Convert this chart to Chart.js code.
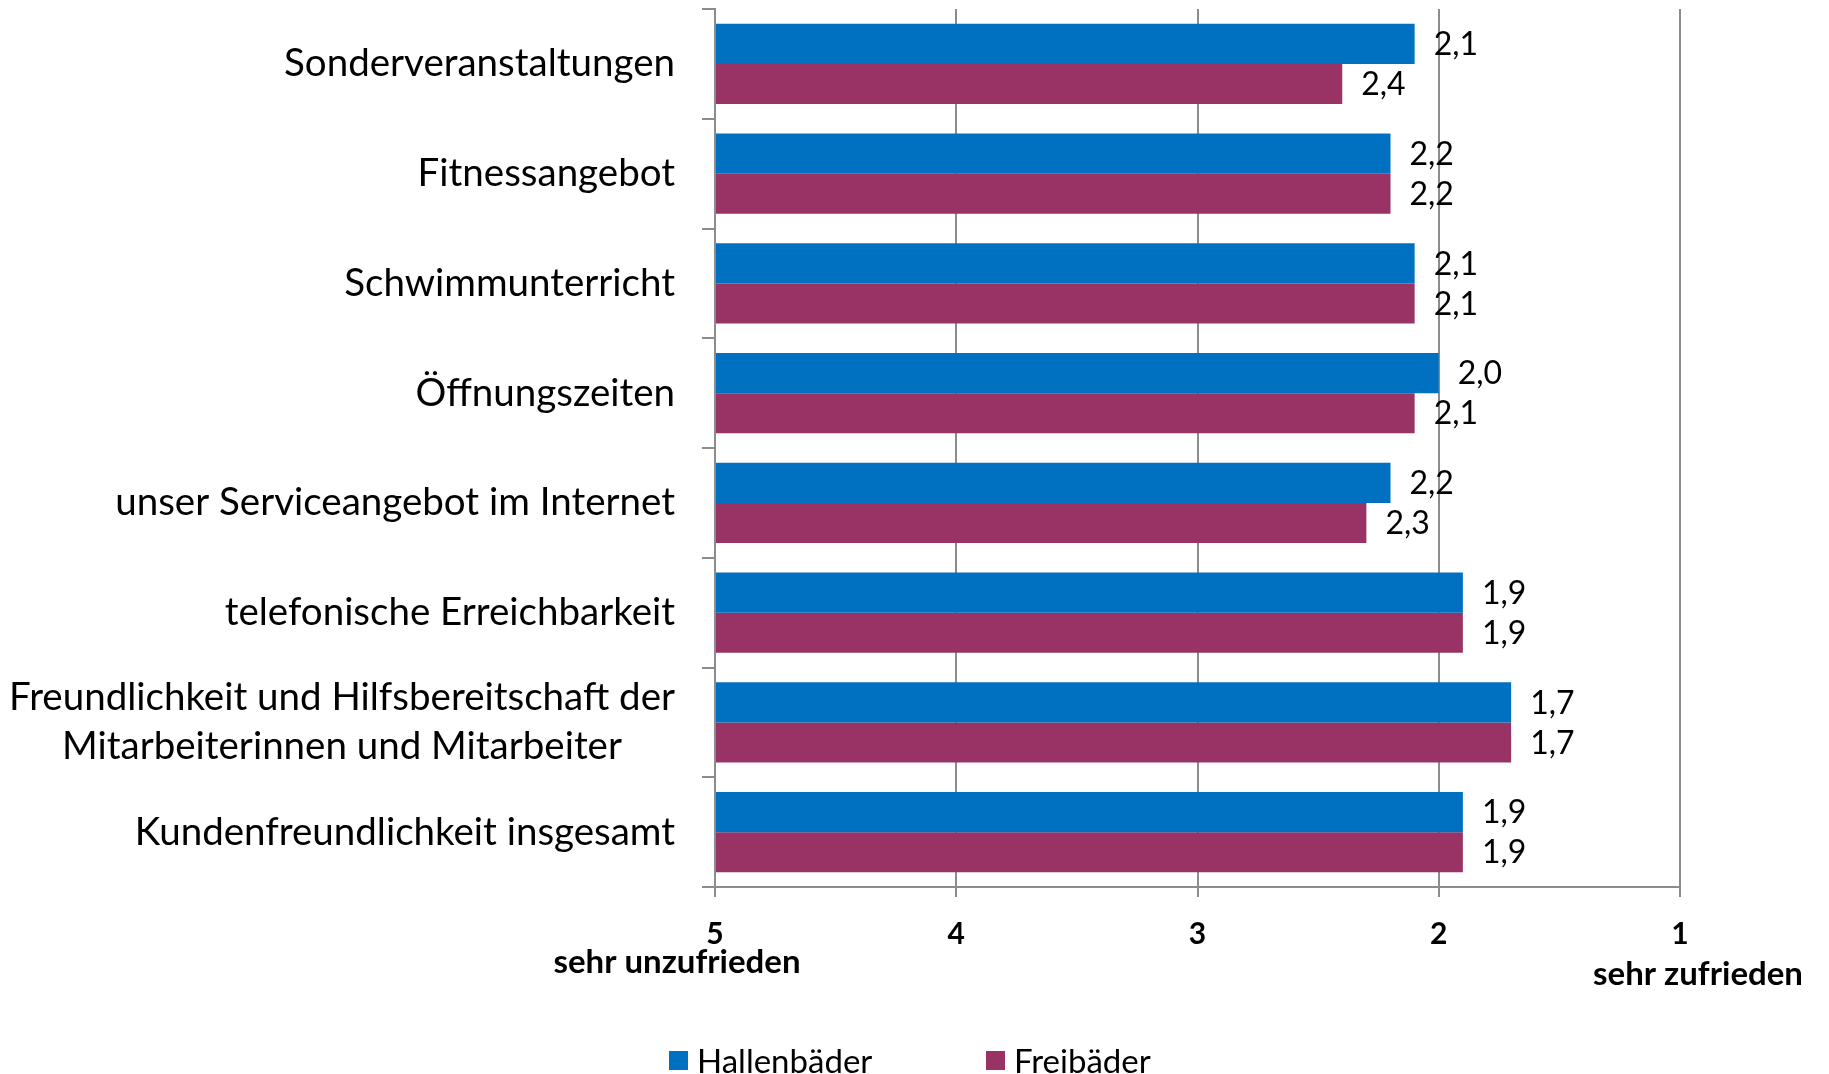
<!DOCTYPE html>
<html>
<head>
<meta charset="utf-8">
<script src="https://cdn.jsdelivr.net/npm/chart.js@4.4.1/dist/chart.umd.min.js"></script>
<style>
  html, body { margin: 0; padding: 0; background: #ffffff; }
  #wrap { width: 1829px; height: 1074px; position: relative; }
</style>
</head>
<body>
<div id="wrap"><canvas id="c" width="1829" height="1074"></canvas></div>
<script>
const categories = [
  "Sonderveranstaltungen",
  "Fitnessangebot",
  "Schwimmunterricht",
  "Öffnungszeiten",
  "unser Serviceangebot im Internet",
  "telefonische Erreichbarkeit",
  ["Freundlichkeit und Hilfsbereitschaft der", "Mitarbeiterinnen und Mitarbeiter"],
  "Kundenfreundlichkeit insgesamt"
];
const hallenbaeder = [2.1, 2.2, 2.1, 2.0, 2.2, 1.9, 1.7, 1.9];
const freibaeder   = [2.4, 2.2, 2.1, 2.1, 2.3, 1.9, 1.7, 1.9];
const seriesNames = ["Hallenbäder", "Freibäder"];
const seriesColors = ["#0070C0", "#993366"];
const xTickValues = [5, 4, 3, 2, 1];
const xEndLabels = ["sehr unzufrieden", "sehr zufrieden"];

const FONT = "Lato, 'Open Sans', sans-serif";
const GRID = "#8c8c8c";

const fmt = v => v.toFixed(1).replace(".", ",");

const labelsPlugin = {
  id: "customLabels",
  afterDatasetsDraw(chart) {
    const ctx = chart.ctx;
    ctx.save();
    // value labels
    ctx.font = "32px " + FONT;
    ctx.fillStyle = "#000";
    ctx.textAlign = "left";
    ctx.textBaseline = "middle";
    chart.data.datasets.forEach((ds, di) => {
      const meta = chart.getDatasetMeta(di);
      meta.data.forEach((el, i) => {
        ctx.fillText(fmt(ds.data[i]), el.x + 19, el.y + 1);
      });
    });
    // category labels
    const ys = chart.scales.y;
    ctx.font = "38.5px " + FONT;
    const rightX = 675;
    categories.forEach((lab, i) => {
      const yc = ys.getPixelForValue(i);
      const lines = Array.isArray(lab) ? lab : [lab];
      const lh = 49;
      const widths = lines.map(l => ctx.measureText(l).width);
      const maxW = Math.max(...widths);
      const cx = rightX - maxW / 2;
      ctx.textAlign = "center";
      lines.forEach((l, k) => {
        const y = yc + (k - (lines.length - 1) / 2) * lh;
        ctx.fillText(l, cx, y);
      });
    });
    // axis end annotations
    const xs = chart.scales.x;
    ctx.font = "bold 33px " + FONT;
    ctx.textAlign = "center";
    ctx.fillText(xEndLabels[0], xs.getPixelForValue(5) - 38, 962);
    ctx.fillText(xEndLabels[1], xs.getPixelForValue(1) + 18, 974);
    // legend
    ctx.font = "33px " + FONT;
    ctx.textAlign = "left";
    const legX = [669, 986];
    seriesNames.forEach((n, i) => {
      ctx.fillStyle = seriesColors[i];
      ctx.fillRect(legX[i], 1051, 19, 19);
      ctx.fillStyle = "#000";
      ctx.fillText(n, legX[i] + 28, 1062);
    });
    ctx.restore();
  }
};

new Chart(document.getElementById("c"), {
  type: "bar",
  data: {
    labels: categories,
    datasets: [
      { label: seriesNames[0], data: hallenbaeder, backgroundColor: seriesColors[0], base: 5,
        borderWidth: 0, barPercentage: 1.0, categoryPercentage: 0.729 },
      { label: seriesNames[1], data: freibaeder, backgroundColor: seriesColors[1], base: 5,
        borderWidth: 0, barPercentage: 1.0, categoryPercentage: 0.729 }
    ]
  },
  options: {
    indexAxis: "y",
    responsive: false,
    animation: false,
    events: [],
    layout: { padding: { left: 702, right: 149, top: 9, bottom: 87 } },
    plugins: {
      legend: { display: false },
      tooltip: { enabled: false }
    },
    scales: {
      x: {
        type: "linear",
        min: 1, max: 5,
        reverse: true,
        afterFit(s) { s.height = 100; },
        afterBuildTicks(s) { s.ticks = xTickValues.map(v => ({ value: v })); },
        ticks: {
          stepSize: 1,
          padding: 19,
          color: "#000",
          font: { family: FONT, size: 30, weight: "bold" },
          callback: v => String(v)
        },
        grid: { color: GRID, lineWidth: 2, tickLength: 10, drawTicks: true },
        border: { color: GRID, width: 2 }
      },
      y: {
        type: "category",
        offset: true,
        afterFit(s) { s.width = 13; },
        ticks: { display: false },
        grid: { offset: true, color: GRID, lineWidth: 2, tickLength: 13, drawOnChartArea: false, drawTicks: true },
        border: { color: GRID, width: 2 }
      }
    }
  },
  plugins: [labelsPlugin]
});
</script>
</body>
</html>
